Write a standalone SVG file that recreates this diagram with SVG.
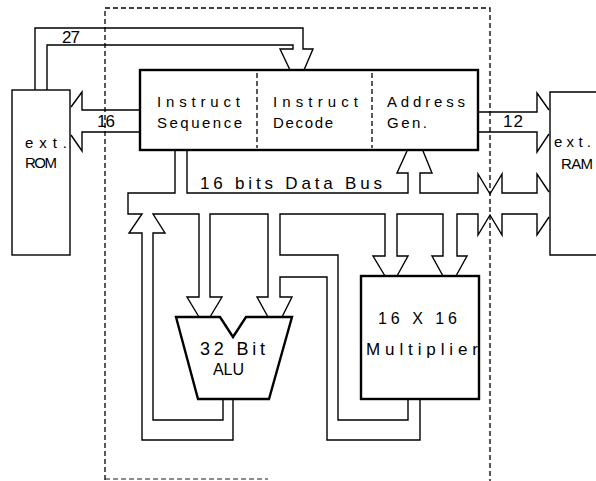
<svg xmlns="http://www.w3.org/2000/svg" width="596" height="481" viewBox="0 0 596 481">
<style>
.ln{fill:none;stroke:#000;stroke-width:1.4;stroke-linejoin:miter}
.box{fill:#fff;stroke:#000;stroke-width:2.4}
.thin{fill:#fff;stroke:#000;stroke-width:1.4}
.dash{fill:none;stroke:#000;stroke-width:1.3;stroke-dasharray:5,3}
.t{font-family:"Liberation Sans",Arial,sans-serif;fill:#000}
</style>
<rect x="0" y="0" width="596" height="481" fill="#fff"/>
<g id="boundary">
<path class="dash" d="M105,480 V8 H490 V481"/>
<path class="dash" d="M105,479 H268" stroke-opacity="0.6"/>
</g>
<g id="connectors">
<path class="ln" d="M35,90 V28 H303 V49 H313 L304,70"/>
<path class="ln" d="M47,90 V45 H293 V49 H280 L290,70"/>
<path class="ln" d="M140,110 H82 V92 L71,107"/>
<path class="ln" d="M140,132 H82 V151 L71,135"/>
<path class="ln" d="M478,112 H537 V93 L549,110"/>
<path class="ln" d="M478,132 H537 V152 L549,134"/>
<path class="ln" d="M175,150 V193 H128 V214 H142 L129,233 H142 V440 H233 V399"/>
<path class="ln" d="M223,399 V420 H153 V233 H165 L153,214 H199 V297 H187 L199,317"/>
<path class="ln" d="M210,317 L222,297 H210 V214 H268 V297 H257 L268,317"/>
<path class="ln" d="M282,317 L292,297 H280 V277 H327 V440 H420 V399"/>
<path class="ln" d="M408,399 V420 H338 V255 H280 V214 H385 V256 H373 L385,276"/>
<path class="ln" d="M397,276 L408,256 H397 V214 H443 V256 H432 L443,276"/>
<path class="ln" d="M456,276 L467,256 H457 V214 H478 V235 L490,215 L502,235 V214 H537 V235 L549,217"/>
<path class="ln" d="M187,150 V193 H408 V173 H397 L407,151"/>
<path class="ln" d="M423,151 L432,173 H420 V193 H478 V174 L490,194 L502,174 V193 H537 V174 L549,192"/>
<text class="t" x="62" y="43" font-size="17" textLength="18" lengthAdjust="spacing">27</text>
<text class="t" x="97" y="127" font-size="17" textLength="18" lengthAdjust="spacing">16</text>
<text class="t" x="503" y="127" font-size="17" textLength="20" lengthAdjust="spacing">12</text>
<text class="t" x="200" y="189" font-size="17" textLength="182" lengthAdjust="spacing">16 bits Data Bus</text>
</g>
<g id="rom">
<rect class="thin" x="12" y="90" width="58" height="165"/>
<text class="t" x="25" y="148" font-size="15" textLength="42" lengthAdjust="spacing">ext.</text>
<text class="t" x="25" y="168" font-size="15" textLength="32" lengthAdjust="spacing">ROM</text>
</g>
<g id="ram">
<path class="thin" d="M600,92 H550 V255 H600"/>
<text class="t" x="554" y="147" font-size="15" textLength="37" lengthAdjust="spacing">ext.</text>
<text class="t" x="561" y="169" font-size="15" textLength="32" lengthAdjust="spacing">RAM</text>
</g>
<g id="instr">
<rect class="box" x="140" y="70" width="338" height="80"/>
<path class="dash" d="M257,73 V148 M372,73 V148"/>
<text class="t" x="157" y="107" font-size="15" textLength="83" lengthAdjust="spacing">Instruct</text>
<text class="t" x="157" y="128" font-size="15" textLength="85" lengthAdjust="spacing">Sequence</text>
<text class="t" x="273" y="107" font-size="15" textLength="85" lengthAdjust="spacing">Instruct</text>
<text class="t" x="273" y="128" font-size="15" textLength="60" lengthAdjust="spacing">Decode</text>
<text class="t" x="387" y="107" font-size="15" textLength="78" lengthAdjust="spacing">Address</text>
<text class="t" x="387" y="128" font-size="15" textLength="40" lengthAdjust="spacing">Gen.</text>
</g>
<g id="alu">
<polygon class="box" points="176,317 220,317 233,337 246,317 292,317 269,399 198,399"/>
<text class="t" x="200" y="355" font-size="18" textLength="65" lengthAdjust="spacing">32 Bit</text>
<text class="t" x="213" y="375" font-size="16" textLength="31" lengthAdjust="spacing">ALU</text>
</g>
<g id="mult">
<rect class="box" x="361" y="276" width="118" height="123"/>
<text class="t" x="378" y="324" font-size="16" textLength="79" lengthAdjust="spacing">16 X 16</text>
<text class="t" x="366" y="355" font-size="17" textLength="112" lengthAdjust="spacing">Multiplier</text>
</g>
</svg>
